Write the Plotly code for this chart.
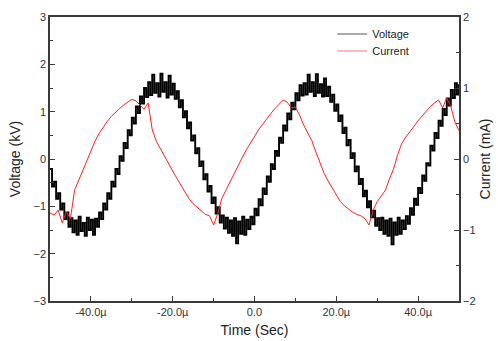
import numpy as np
import plotly.graph_objects as go

# ---- data ----
# Voltage in kV, sampled every 0.5 us from -50 us to +50 us
voltage_kv = [
    -0.21, -0.58, -0.48, -0.84, -0.72, -1.07, -0.94, -1.27, -1.13, -1.43,
    -1.25, -1.55, -1.30, -1.60, -1.22, -1.52, -1.35, -1.62, -1.24, -1.50, -1.28, -1.60, -1.26,
    -1.43, -1.13, -1.27, -0.94, -1.07, -0.72, -0.84, -0.48, -0.58, -0.21, -0.32, 0.06, -0.04,
    0.34, 0.23, 0.61, 0.50, 0.87, 0.75, 1.11, 0.97, 1.32, 1.17, 1.50, 1.31,
    1.62, 1.35, 1.78, 1.40, 1.60, 1.32, 1.80, 1.42, 1.62, 1.30, 1.76,
    1.36, 1.59, 1.27, 1.43, 1.09, 1.24, 0.88, 1.01, 0.65, 0.77, 0.39, 0.50, 0.12, 0.23,
    -0.15, -0.05, -0.43, -0.32, -0.69, -0.57, -0.93, -0.81, -1.15, -1.02, -1.34, -1.19, -1.47,
    -1.24, -1.56, -1.30, -1.62, -1.25, -1.78, -1.32, -1.58, -1.22, -1.60, -1.28,
    -1.48, -1.22, -1.38, -1.05, -1.19, -0.85, -0.98, -0.62, -0.74, -0.37, -0.48, -0.11, -0.21,
    0.17, 0.07, 0.45, 0.34, 0.71, 0.60, 0.96, 0.84, 1.19, 1.05, 1.39, 1.24, 1.56, 1.34,
    1.60, 1.36, 1.78, 1.42, 1.62, 1.33, 1.79, 1.40, 1.58, 1.32, 1.70,
    1.33, 1.53, 1.21, 1.36, 1.02, 1.15, 0.80, 0.92, 0.55, 0.66, 0.29, 0.40, 0.02, 0.12,
    -0.26, -0.16, -0.53, -0.42, -0.79, -0.67, -1.02, -0.89, -1.23, -1.09, -1.41, -1.25, -1.50,
    -1.24, -1.58, -1.30, -1.62, -1.26, -1.80, -1.34, -1.60, -1.24, -1.58, -1.30,
    -1.48, -1.21, -1.37, -1.04, -1.18, -0.84, -0.97, -0.61, -0.72, -0.35, -0.46, -0.09, -0.14,
    0.28, 0.18, 0.55, 0.44, 0.81, 0.70, 1.06, 0.93, 1.28, 1.13, 1.46, 1.29, 1.60, 1.36, 1.58,
]

# Current in mA, sampled every 1 us from -50 us to +50 us
current_ma = [
    -0.76, -0.79, -0.72, -0.90, -0.74, -0.84, -0.44, -0.30, -0.16, -0.02,
    0.12, 0.25, 0.36, 0.45, 0.53, 0.60, 0.66, 0.71, 0.76, 0.80,
    0.84, 0.82, 0.76, 0.70, 0.79, 0.41, 0.25, 0.14, 0.03, -0.08,
    -0.17, -0.27, -0.37, -0.46, -0.56, -0.63, -0.68, -0.73, -0.78, -0.80,
    -0.93, -0.77, -0.56, -0.44, -0.32, -0.20, -0.10, 0.02, 0.13, 0.23,
    0.32, 0.41, 0.49, 0.57, 0.64, 0.71, 0.77, 0.83, 0.80, 0.72,
    0.73, 0.62, 0.48, 0.37, 0.26, 0.10, -0.06, -0.20, -0.31, -0.41,
    -0.51, -0.60, -0.66, -0.71, -0.75, -0.78, -0.80, -0.84, -0.93, -0.72,
    -0.60, -0.52, -0.44, -0.28, -0.14, 0.06, 0.22, 0.31, 0.38, 0.46,
    0.54, 0.61, 0.68, 0.74, 0.79, 0.83, 0.72, 0.86, 0.74, 0.52,
    0.40,
]

time_start_s = -50e-6
time_end_s = 50e-6

x_tick_vals = [-40e-6, -20e-6, 0.0, 20e-6, 40e-6]
x_minor_vals = [-30e-6, -10e-6, 10e-6, 30e-6]
x_tick_text = ["-40.0\u00b5", "-20.0\u00b5", "0.0", "20.0\u00b5", "40.0\u00b5"]
v_tick_vals = [-3, -2, -1, 0, 1, 2, 3]
i_tick_vals = [-2, -1, 0, 1, 2]

t_voltage = np.linspace(time_start_s, time_end_s, len(voltage_kv))
t_current = np.linspace(time_start_s, time_end_s, len(current_ma))

FONT = "Liberation Sans, Arial, sans-serif"
AXC = "#3a3a3a"
TXT = "#333333"

fig = go.Figure()
fig.add_trace(go.Scatter(
    x=t_voltage, y=voltage_kv, name="Voltage", mode="lines", showlegend=False,
    line=dict(color="black", width=1.9, shape="hv"), yaxis="y",
))
fig.add_trace(go.Scatter(
    x=t_current, y=current_ma, name="Current", mode="lines", showlegend=False,
    line=dict(color="#ff2020", width=1), yaxis="y2",
))
# legend entries (thin lines as in the reference legend)
fig.add_trace(go.Scatter(
    x=[None], y=[None], name="Voltage", mode="lines", legend="legend",
    line=dict(color="#555555", width=1),
))
fig.add_trace(go.Scatter(
    x=[None], y=[None], name="Current", mode="lines", legend="legend2",
    line=dict(color="#ff7070", width=1), yaxis="y2",
))

legend_common = dict(xanchor="left", yanchor="middle", bgcolor="rgba(0,0,0,0)",
                     font=dict(size=11, color="#222"), itemwidth=30)

fig.update_layout(
    width=498, height=341,
    margin=dict(l=50, r=39, t=17, b=40),
    paper_bgcolor="white", plot_bgcolor="white",
    font=dict(family=FONT, size=11, color=TXT),
    showlegend=True,
    legend=dict(x=0.69, y=(301 - 34) / 284, **legend_common),
    legend2=dict(x=0.69, y=(301 - 51) / 284, **legend_common),
    xaxis=dict(
        range=[time_start_s, time_end_s], tickvals=x_tick_vals, ticktext=x_tick_text,
        ticks="inside", ticklen=5, tickwidth=1.2, tickcolor=AXC,
        minor=dict(tickvals=x_minor_vals, ticks="inside", ticklen=3,
                   tickwidth=1.2, tickcolor=AXC),
        showline=True, linecolor=AXC, linewidth=1.6, mirror=True,
        showgrid=False, zeroline=False, automargin=False,
        tickfont=dict(size=11, color=TXT),
        title=dict(text="Time (Sec)", font=dict(size=14, color="#222"), standoff=8),
    ),
    yaxis=dict(
        range=[-3, 3], tickvals=v_tick_vals,
        ticks="inside", ticklen=5, tickwidth=1.2, tickcolor=AXC,
        minor=dict(dtick=0.5, ticks="inside", ticklen=3, tickwidth=1.2, tickcolor=AXC),
        showline=True, linecolor=AXC, linewidth=1.6,
        showgrid=False, zeroline=False, automargin=False,
        tickfont=dict(size=11, color=TXT),
        title=dict(text="Voltage (kV)", font=dict(size=14, color="#222"), standoff=10),
    ),
    yaxis2=dict(
        range=[-2, 2], tickvals=i_tick_vals, overlaying="y", side="right",
        ticks="inside", ticklen=5, tickwidth=1.2, tickcolor=AXC,
        minor=dict(dtick=0.5, ticks="inside", ticklen=3, tickwidth=1.2, tickcolor=AXC),
        showline=True, linecolor=AXC, linewidth=1.6,
        showgrid=False, zeroline=False, automargin=False,
        tickfont=dict(size=11, color=TXT),
        title=dict(text="Current (mA)", font=dict(size=14, color="#222"), standoff=6),
    ),
)

fig.write_html(
    "out.html",
    config={"displayModeBar": False},
    post_script="document.body.style.margin='0';document.body.style.overflow='hidden';",
)
